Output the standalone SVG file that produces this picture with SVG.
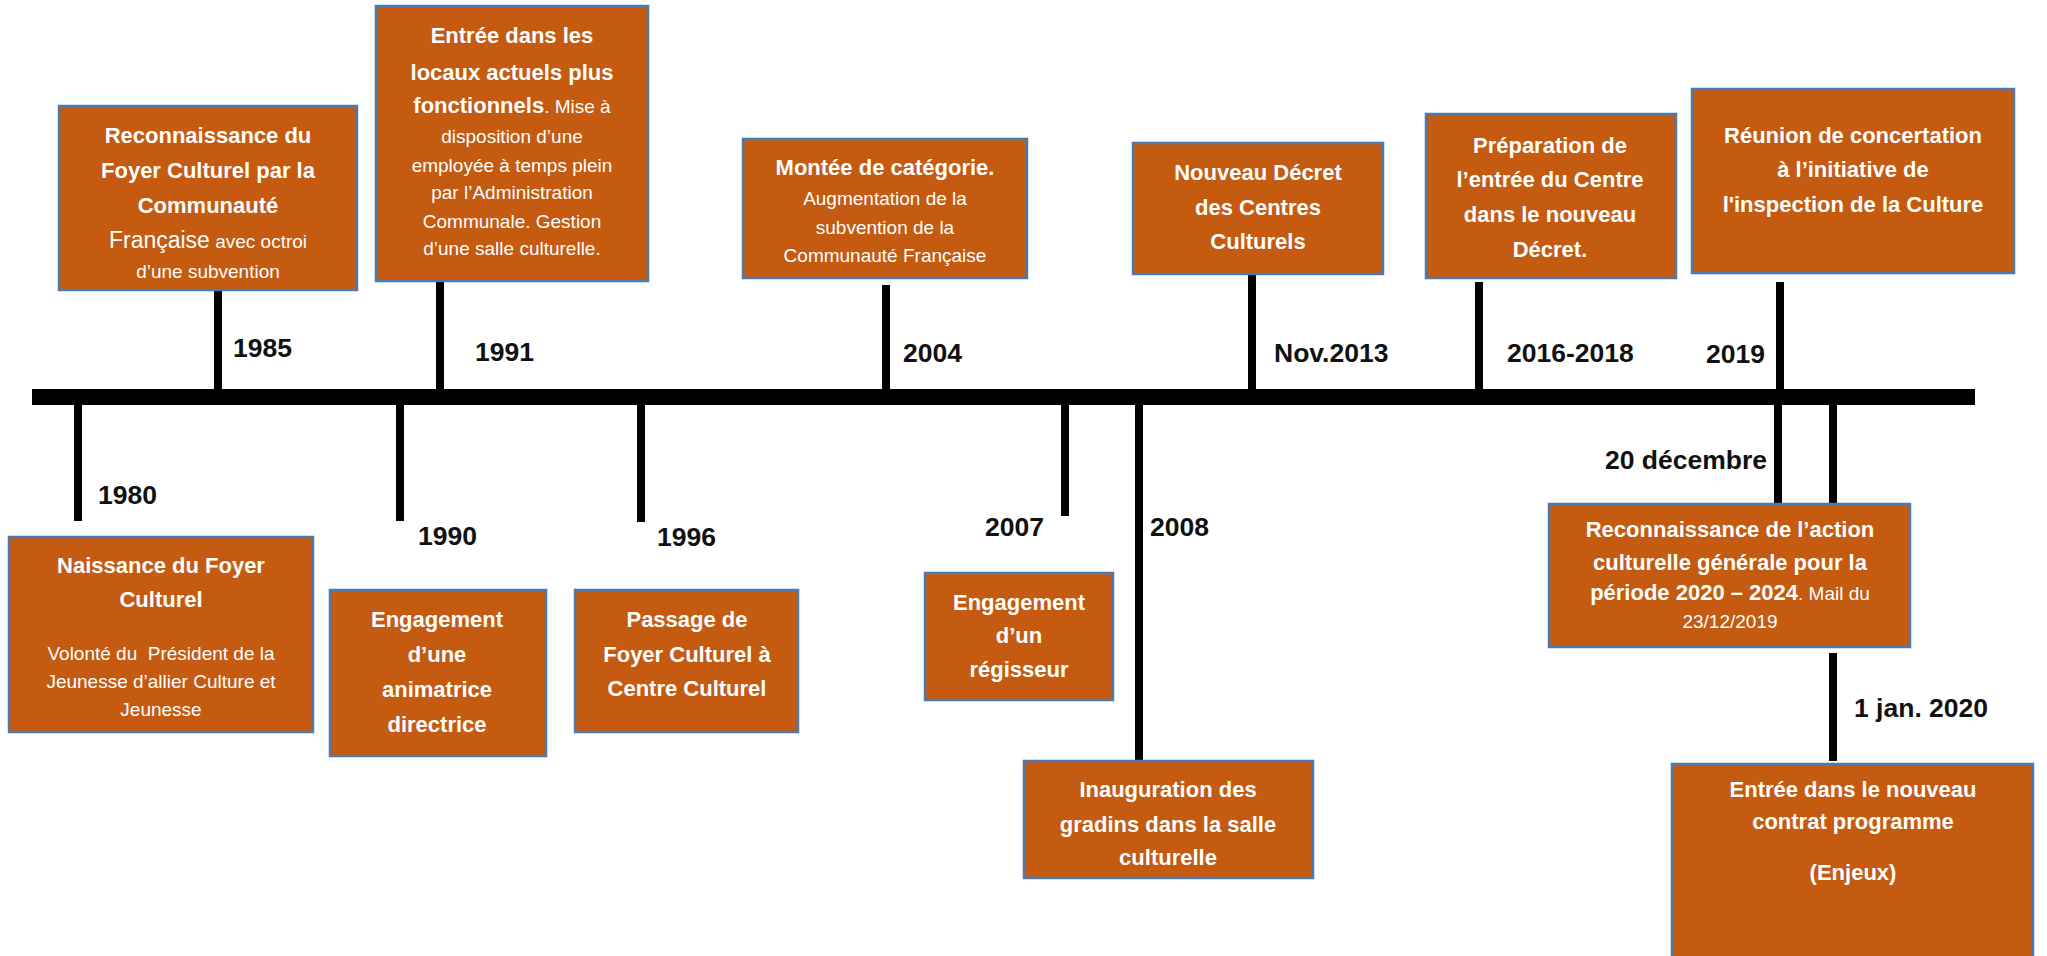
<svg xmlns="http://www.w3.org/2000/svg" width="2047" height="956" viewBox="0 0 2047 956">
<style>
.box{fill:#C55A11;stroke:#4A7AAE;stroke-width:2.5}
.t{font-family:"Liberation Sans",Arial,sans-serif;fill:#fff;text-anchor:middle}
.b{font-weight:bold;font-size:22px}
.r{font-size:19px}
.yr{font-family:"Liberation Sans",Arial,sans-serif;font-weight:bold;font-size:26.5px;fill:#111}
.ln{stroke:#000;stroke-width:8;fill:none}
</style>
<rect width="2047" height="956" fill="#fff"/>
<g id="connectors">
<rect x="32" y="389" width="1943" height="16" fill="#000"/>
<line class="ln" x1="218" y1="290" x2="218" y2="390"/>
<line class="ln" x1="440" y1="281" x2="440" y2="390"/>
<line class="ln" x1="886" y1="285" x2="886" y2="390"/>
<line class="ln" x1="1252" y1="274" x2="1252" y2="390"/>
<line class="ln" x1="1479" y1="282" x2="1479" y2="390"/>
<line class="ln" x1="1780" y1="282" x2="1780" y2="390"/>
<line class="ln" x1="78" y1="404" x2="78" y2="521"/>
<line class="ln" x1="400" y1="404" x2="400" y2="521"/>
<line class="ln" x1="641" y1="404" x2="641" y2="522"/>
<line class="ln" x1="1065" y1="404" x2="1065" y2="516"/>
<line class="ln" x1="1139" y1="404" x2="1139" y2="761"/>
<line class="ln" x1="1778" y1="404" x2="1778" y2="505"/>
<line class="ln" x1="1833" y1="404" x2="1833" y2="505"/>
<line class="ln" x1="1833" y1="653" x2="1833" y2="761"/>
</g>
<g id="labels">
<text class="yr" x="233" y="357">1985</text>
<text class="yr" x="475" y="361">1991</text>
<text class="yr" x="903" y="362">2004</text>
<text class="yr" x="1274" y="362">Nov.2013</text>
<text class="yr" x="1507" y="362">2016-2018</text>
<text class="yr" x="1706" y="363">2019</text>
<text class="yr" x="98" y="504">1980</text>
<text class="yr" x="418" y="545">1990</text>
<text class="yr" x="657" y="546">1996</text>
<text class="yr" x="985" y="536">2007</text>
<text class="yr" x="1150" y="536">2008</text>
<text class="yr" x="1605" y="469">20 décembre</text>
<text class="yr" x="1854" y="717">1 jan. 2020</text>
</g>
<g id="n1985">
<rect class="box" x="59" y="106" width="298" height="184"/>
<text class="t b" x="208" y="143">Reconnaissance du</text>
<text class="t b" x="208" y="178">Foyer Culturel par la</text>
<text class="t b" x="208" y="213">Communauté</text>
<text class="t r" x="208" y="248"><tspan font-size="23">Française</tspan> avec octroi</text>
<text class="t r" x="208" y="278">d’une subvention</text>
</g>
<g id="n1991">
<rect class="box" x="376" y="6" width="272" height="275"/>
<text class="t b" x="512" y="43">Entrée dans les</text>
<text class="t b" x="512" y="80">locaux actuels plus</text>
<text class="t b" x="512" y="113">fonctionnels<tspan font-weight="normal" font-size="19">. Mise à</tspan></text>
<text class="t r" x="512" y="143">disposition d’une</text>
<text class="t r" x="512" y="172">employée à temps plein</text>
<text class="t r" x="512" y="199">par l’Administration</text>
<text class="t r" x="512" y="228">Communale. Gestion</text>
<text class="t r" x="512" y="255">d’une salle culturelle.</text>
</g>
<g id="n2004">
<rect class="box" x="743" y="139" width="284" height="139"/>
<text class="t b" x="885" y="175">Montée de catégorie.</text>
<text class="t r" x="885" y="205">Augmentation de la</text>
<text class="t r" x="885" y="234">subvention de la</text>
<text class="t r" x="885" y="262">Communauté Française</text>
</g>
<g id="n2013">
<rect class="box" x="1133" y="143" width="250" height="131"/>
<text class="t b" x="1258" y="180">Nouveau Décret</text>
<text class="t b" x="1258" y="215">des Centres</text>
<text class="t b" x="1258" y="249">Culturels</text>
</g>
<g id="n2016">
<rect class="box" x="1426" y="114" width="250" height="164"/>
<text class="t b" x="1550" y="153">Préparation de</text>
<text class="t b" x="1550" y="187">l’entrée du Centre</text>
<text class="t b" x="1550" y="222">dans le nouveau</text>
<text class="t b" x="1550" y="257">Décret.</text>
</g>
<g id="n2019">
<rect class="box" x="1692" y="89" width="322" height="184"/>
<text class="t b" x="1853" y="143">Réunion de concertation</text>
<text class="t b" x="1853" y="177">à l’initiative de</text>
<text class="t b" x="1853" y="212">l'inspection de la Culture</text>
</g>
<g id="n1980">
<rect class="box" x="9" y="537" width="304" height="195"/>
<text class="t b" x="161" y="573">Naissance du Foyer</text>
<text class="t b" x="161" y="607">Culturel</text>
<text class="t r" x="161" y="660" xml:space="preserve">Volonté du  Président de la</text>
<text class="t r" x="161" y="688">Jeunesse d’allier Culture et</text>
<text class="t r" x="161" y="716">Jeunesse</text>
</g>
<g id="n1990">
<rect class="box" x="330" y="590" width="216" height="166"/>
<text class="t b" x="437" y="627">Engagement</text>
<text class="t b" x="437" y="662">d’une</text>
<text class="t b" x="437" y="697">animatrice</text>
<text class="t b" x="437" y="732">directrice</text>
</g>
<g id="n1996">
<rect class="box" x="575" y="590" width="223" height="142"/>
<text class="t b" x="687" y="627">Passage de</text>
<text class="t b" x="687" y="662">Foyer Culturel à</text>
<text class="t b" x="687" y="696">Centre Culturel</text>
</g>
<g id="n2007">
<rect class="box" x="925" y="573" width="188" height="127"/>
<text class="t b" x="1019" y="610">Engagement</text>
<text class="t b" x="1019" y="643">d’un</text>
<text class="t b" x="1019" y="677">régisseur</text>
</g>
<g id="n2008">
<rect class="box" x="1024" y="761" width="289" height="117"/>
<text class="t b" x="1168" y="797">Inauguration des</text>
<text class="t b" x="1168" y="832">gradins dans la salle</text>
<text class="t b" x="1168" y="865">culturelle</text>
</g>
<g id="n20dec">
<rect class="box" x="1549" y="504" width="361" height="143"/>
<text class="t b" x="1730" y="537">Reconnaissance de l’action</text>
<text class="t b" x="1730" y="570">culturelle générale pour la</text>
<text class="t b" x="1730" y="600">période 2020 – 2024<tspan font-weight="normal" font-size="19">. Mail du</tspan></text>
<text class="t r" x="1730" y="628">23/12/2019</text>
</g>
<g id="n2020">
<rect class="box" x="1672" y="764" width="361" height="200"/>
<text class="t b" x="1853" y="797">Entrée dans le nouveau</text>
<text class="t b" x="1853" y="829">contrat programme</text>
<text class="t b" x="1853" y="880">(Enjeux)</text>
</g>
</svg>
